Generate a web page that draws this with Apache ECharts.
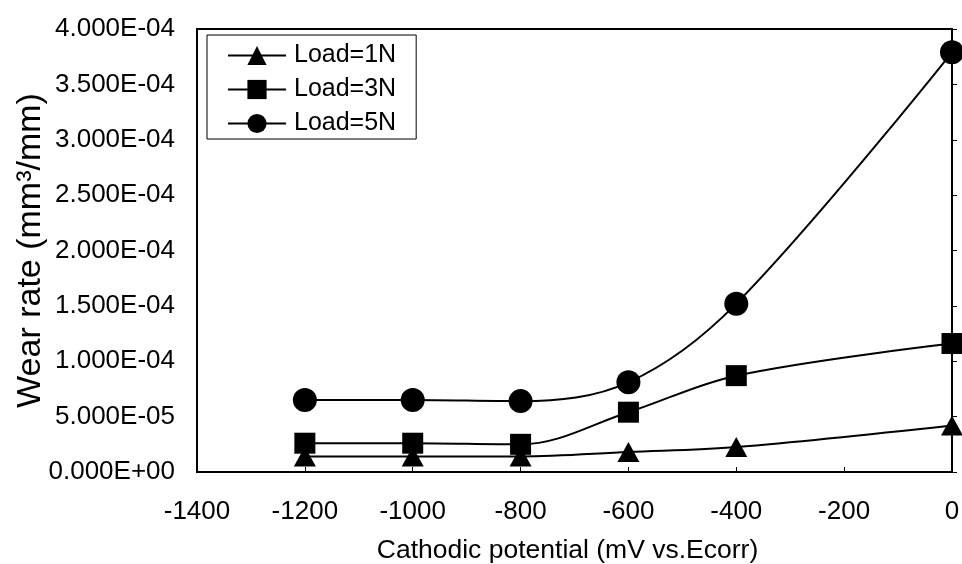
<!DOCTYPE html>
<html>
<head>
<meta charset="utf-8">
<script src="https://cdn.jsdelivr.net/npm/echarts@6/dist/echarts.min.js"></script>
<style>
html,body{margin:0;padding:0;background:#fff;}
#chart{width:962px;height:564px;}
</style>
</head>
<body>
<div id="chart"></div>
<script>
// Data
var potentials = [-1200, -1000, -800, -600, -400, 0];
var load1N = [1.4e-5, 1.4e-5, 1.4e-5, 1.8e-5, 2.25e-5, 4.2e-5];
var load3N = [2.6e-5, 2.6e-5, 2.5e-5, 5.4e-5, 8.7e-5, 1.16e-4];
var load5N = [6.5e-5, 6.5e-5, 6.4e-5, 8.1e-5, 1.52e-4, 3.79e-4];
var seriesNames = ['Load=1N', 'Load=3N', 'Load=5N'];
var xTitle = 'Cathodic potential (mV vs.Ecorr)';
var yTitle = 'Wear rate (mm\u00B3/mm)';

function pairs(xs, ys) {
  return xs.map(function (x, i) { return [x, ys[i]]; });
}
function sci(v) {
  var s = Number(v).toExponential(3);
  var parts = s.split('e');
  var exp = parseInt(parts[1], 10);
  var sign = exp < 0 ? '-' : '+';
  var a = Math.abs(exp);
  return parts[0] + 'E' + sign + (a < 10 ? '0' + a : '' + a);
}

var FONT = '"Liberation Sans", Arial, sans-serif';
var chart = echarts.init(document.getElementById('chart'), null, {renderer: 'canvas'});
var lineBase = {
  type: 'line',
  smooth: 0.35,
  lineStyle: {color: '#000', width: 2},
  itemStyle: {color: '#000'},
  emphasis: {disabled: true},
  z: 3
};
chart.setOption({
  backgroundColor: '#fff',
  animation: false,
  textStyle: {fontFamily: FONT, color: '#000'},
  grid: {
    left: 197, right: 10, top: 29, bottom: 92,
    containLabel: false,
    outerBoundsMode: 'none',
    show: true, borderColor: '#000', borderWidth: 2, backgroundColor: 'transparent'
  },
  legend: {
    left: 207, top: 35,
    orient: 'vertical',
    data: seriesNames,
    itemWidth: 58, itemHeight: 24, itemGap: 9,
    padding: [8, 20, 3, 20],
    backgroundColor: '#fff',
    borderColor: '#000', borderWidth: 1,
    textStyle: {fontFamily: FONT, fontSize: 25, color: '#000', padding: [0, 0, 0, 3]},
    selectedMode: false
  },
  xAxis: {
    type: 'value',
    min: -1400, max: 0, interval: 200,
    name: xTitle,
    nameLocation: 'middle',
    nameGap: 65,
    nameMoveOverlap: false,
    nameTextStyle: {fontFamily: FONT, fontSize: 26.5, color: '#000', padding: [0, 14, 0, 0]},
    axisLine: {show: true, onZero: false, lineStyle: {color: '#000', width: 2}},
    axisTick: {show: true, inside: true, length: 5, lineStyle: {color: '#000', width: 1}},
    axisLabel: {fontFamily: FONT, fontSize: 26, color: '#000', margin: 27,
      formatter: function (v) { return String(v); }},
    splitLine: {show: false}
  },
  yAxis: {
    type: 'value',
    min: 0, max: 4e-4, interval: 5e-5,
    name: yTitle,
    nameLocation: 'middle',
    nameGap: 149,
    nameMoveOverlap: false,
    nameTextStyle: {fontFamily: FONT, fontSize: 34, color: '#000'},
    axisLine: {show: true, lineStyle: {color: '#000', width: 2}},
    axisTick: {show: true, inside: true, length: 5, lineStyle: {color: '#000', width: 1}},
    axisLabel: {fontFamily: FONT, fontSize: 26, color: '#000', margin: 22, formatter: sci},
    splitLine: {show: false}
  },
  series: [
    Object.assign({}, lineBase, {name: seriesNames[0], data: pairs(potentials, load1N), symbol: 'triangle', symbolSize: [22, 20]}),
    Object.assign({}, lineBase, {name: seriesNames[1], data: pairs(potentials, load3N), symbol: 'rect', symbolSize: 21}),
    Object.assign({}, lineBase, {name: seriesNames[2], data: pairs(potentials, load5N), symbol: 'circle', symbolSize: 24})
  ]
});
</script>
</body>
</html>
